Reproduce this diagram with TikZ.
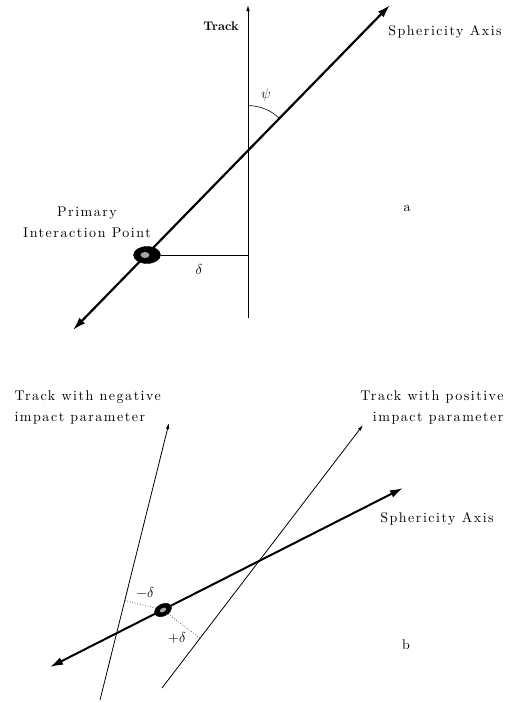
\documentclass[tikz,border=0pt]{standalone}
\usepackage{fontspec}
\usetikzlibrary{arrows.meta,calc,shapes.geometric}

\newfontfamily\lblfont{lmroman10-regular}[Extension=.otf,LetterSpace=11]
\newfontfamily\boldfont{lmroman10-bold}[Extension=.otf]

\begin{document}
\begin{tikzpicture}[x=1pt,y=-1pt,
    axisline/.style={line width=2.2pt,{Latex[length=13pt,width=8pt]}-{Latex[length=13pt,width=8pt]}},
    trackline/.style={line width=0.8pt,-{Latex[length=6pt,width=3.5pt]}},
    lbl/.style={font=\lblfont\fontsize{14}{21}\selectfont},
    vertex/.style={ellipse,draw=black,fill=black,inner sep=0pt},
    hatch/.style={ellipse,fill=gray!70,inner sep=0pt},
    offset/.style={dotted,line width=0.6pt}]

    \useasboundingbox (0,0) rectangle (508,702);

    % Panel a: track and sphericity axis
    \coordinate (tbot) at (248,318);
    \coordinate (ttop) at (248,5);
    \coordinate (abot) at (73,330);
    \coordinate (atop) at (390,5);
    \coordinate (cross) at (intersection of tbot--ttop and abot--atop);
    \draw[trackline] (tbot) -- (ttop);
    \draw[axisline] (abot) -- (atop);

    % Primary interaction point
    \node[vertex,minimum width=27pt,minimum height=17pt] (ipa) at (147,255) {};
    \node[hatch,minimum width=9pt,minimum height=6pt] (ipahatch) at ($(ipa.center)+(-2,0)$) {};
    \coordinate (foota) at ($(tbot)!(ipa.center)!(ttop)$);
    \draw[line width=0.8pt] (ipa.east) -- (foota);

    % Angle psi
    \draw[line width=0.6pt] (cross) ++(0,-45) arc[start angle=90,end angle=45,radius=45pt];

    % Labels a
    \node[font=\boldfont\fontsize{12.5}{15}\selectfont] (tracklbl) at (221,26) {Track};
    \node[lbl] (sphlbla) at (445,32) {Sphericity Axis};
    \node[lbl,align=center] (iplbl) at (87,222) {Primary\\Interaction Point};
    \node[lbl] (psilbl) at (266,95) {$\psi$};
    \node[lbl] (deltalbl) at (199,269) {$\delta$};
    \node[lbl] (panela) at (407,208) {a};

    % Panel b: two tracks and sphericity axis
    \coordinate (nbot) at (100,700);
    \coordinate (ntop) at (169,423);
    \coordinate (pbot) at (162,688);
    \coordinate (ptop) at (363,425);
    \coordinate (bbot) at (50,667);
    \coordinate (btop) at (403,488);
    \draw[trackline] (nbot) -- (ntop);
    \draw[trackline] (pbot) -- (ptop);
    \draw[axisline,line width=2pt] (bbot) -- (btop);

    % Interaction point and impact parameters
    \node[vertex,minimum width=18pt,minimum height=12pt,rotate=27] (ipb) at (163,610) {};
    \node[hatch,minimum width=7pt,minimum height=4pt,rotate=27] (ipbhatch) at (ipb.center) {};
    \coordinate (footn) at ($(nbot)!(ipb.center)!(ntop)$);
    \coordinate (footp) at ($(pbot)!(ipb.center)!(ptop)$);
    \draw[offset] (ipb) -- (footn);
    \draw[offset] (ipb) -- (footp);

    % Labels b
    \node[lbl,align=left,anchor=west] (neglbl) at (11,407) {Track with negative\\impact parameter};
    \node[lbl,align=right,anchor=east] (poslbl) at (507,407) {Track with positive\\impact parameter};
    \node[lbl] (sphlblb) at (437,519) {Sphericity Axis};
    \node[lbl] (mdelta) at (145,593) {$-\delta$};
    \node[lbl] (pdelta) at (177,638) {$+\delta$};
    \node[lbl] (panelb) at (406,645) {b};

\end{tikzpicture}
\end{document}
